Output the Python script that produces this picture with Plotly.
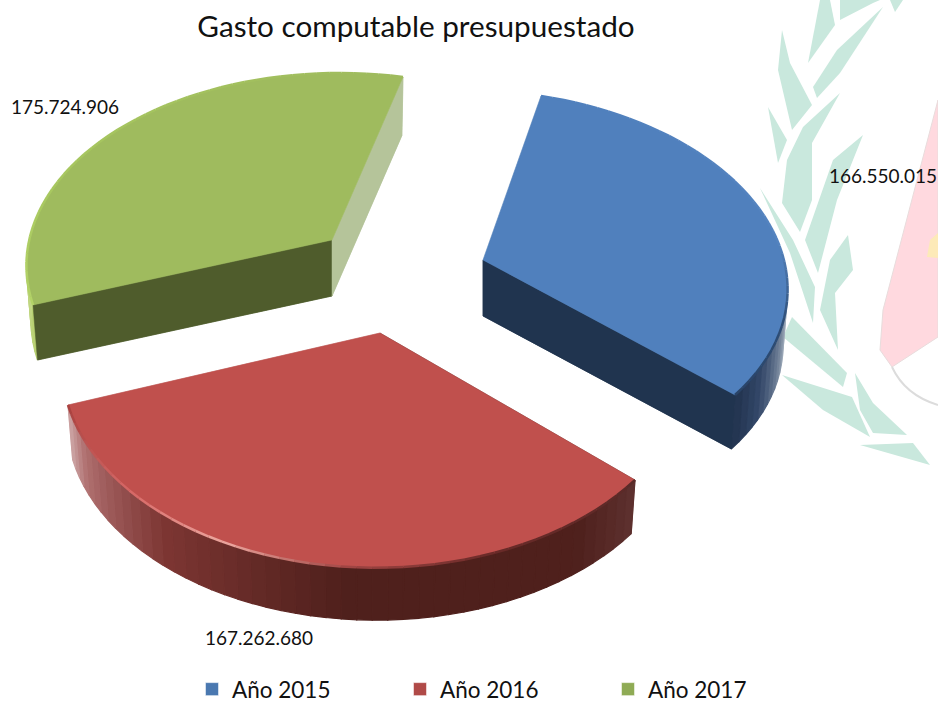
import numpy as np
import plotly.graph_objects as go

categories = ["Año 2015", "Año 2016", "Año 2017"]
values = [166550015, 167262680, 175724906]
title_text = "Gasto computable presupuestado"

W, H = 938, 711
top_colors = ["#5080bd", "#c0504d", "#9fbb5e"]
legend_colors = ["#4a78b0", "#b04a48", "#8fab55"]
apex = [(483, 260), (380, 333), (332, 240)]
label_pos = [(883, 178), (259, 640), (65, 109)]
depth = 56

# view: projective map of the unit disc onto the screen for each slice, fixed by the
# directions of the slice boundaries as seen from that slice's apex
view_dirs = [
    [(58, -164), (252, 135), (-305, 68)],
    [(67, -168), (255, 147), (-312, 72)],
    [(71, -163), (253, 141), (-299, 65)],
]

fractions = np.array(values) / sum(values)
edges = np.concatenate([[0], np.cumsum(fractions)]) * 2 * np.pi


def make_view(dirs):
    rows, rhs = [], []
    for phi, (u, v) in zip(edges[:3], dirs):
        x, y = np.sin(phi), np.cos(phi)
        rows.append([x, y, 0, 0, -u * x, -u * y]); rhs.append(u)
        rows.append([0, 0, x, y, -v * x, -v * y]); rhs.append(v)
    return np.linalg.solve(np.array(rows, float), np.array(rhs, float))


def project(view, phi):
    a, b, c, d, g, h = view
    x, y = np.sin(phi), np.cos(phi)
    w = 1 + g * x + h * y
    return (a * x + b * y) / w, (c * x + d * y) / w


def hex_rgb(s):
    return np.array([int(s[i:i + 2], 16) for i in (1, 3, 5)], float)


def ramp(stops, t):
    ts = [s[0] for s in stops]
    rgb = [np.interp(t, ts, [hex_rgb(s[1])[k] for s in stops]) for k in range(3)]
    return "rgb(%d,%d,%d)" % tuple(rgb)


side_ramps = [
    [(0, "#d8dde2"), (0.72, "#c8d0d8"), (0.82, "#76869c"), (0.92, "#34486a"), (1, "#22344f")],
    [(0, "#5f3230"), (0.12, "#4f211d"), (0.45, "#4f201c"), (0.72, "#7d3633"), (0.92, "#b07070"), (1, "#cfa8a8")],
    [(0, "#b8d070"), (0.2, "#c8dc90"), (1, "#e8f0d0")],
]
rim_ramps = [
    [(0, "#5080bd"), (0.6, "#5584c0"), (0.8, "#2f4f78"), (1, "#2a4468")],
    [(0, "#5a2a28"), (0.25, "#6a2a28"), (0.45, "#a04644"), (0.62, "#eda8a0"), (0.78, "#d86a68"), (1, "#a84240")],
    [(0, "#b4d468"), (0.3, "#a8c860"), (1, "#9fbb5e")],
]
face_colors = [("#e0e4e8", "#20344f"), ("#5f3230", "#cfa8a8"), ("#4f5c2c", "#b5c49a")]
NSEG = 48

fig = go.Figure()


def poly(xs, ys, color, lw=1.2):
    fig.add_trace(go.Scatter(x=xs, y=ys, mode="lines", fill="toself", fillcolor=color,
                             line=dict(color=color, width=lw), hoverinfo="skip", showlegend=False))


for i in range(3):
    ax, ay = apex[i]
    phis = np.linspace(edges[i], edges[i + 1], NSEG + 1)
    px, py = project(make_view(view_dirs[i]), phis)
    tx, ty = ax + px, ay + py
    bx, by = ax + px * 0.985, ay + py * 0.985 + depth
    # radial side walls
    poly([ax, tx[0], bx[0], ax, ax], [ay, ty[0], by[0], ay + depth, ay], face_colors[i][0], 0.5)
    poly([ax, tx[-1], bx[-1], ax, ax], [ay, ty[-1], by[-1], ay + depth, ay], face_colors[i][1], 0.5)
    # rounded outer wall (only where it faces the viewer)
    for k in range(NSEG):
        t = (k + 0.5) / NSEG
        if i == 2 and t > 0.5:
            continue
        poly([tx[k], tx[k + 1], bx[k + 1], bx[k], tx[k]],
             [ty[k], ty[k + 1], by[k + 1], by[k], ty[k]], ramp(side_ramps[i], t))
    if i != 1:
        # walls in front of the rounded wall
        j = 1 if i == 0 else 0
        e = -1 if j else 0
        poly([ax, tx[e], bx[e], ax, ax], [ay, ty[e], by[e], ay + depth, ay], face_colors[i][j], 0.5)
    if i == 2:
        poly([ax, tx[-1], bx[-1], ax, ax], [ay, ty[-1], by[-1], ay + depth, ay], face_colors[i][1], 0.5)
    # top face
    poly(np.r_[ax, tx, ax], np.r_[ay, ty, ay], top_colors[i], 0.5)
    # bevel on the rim
    for k in range(NSEG):
        t = (k + 0.5) / NSEG
        fig.add_trace(go.Scatter(x=tx[k:k + 2], y=ty[k:k + 2], mode="lines",
                                 line=dict(color=ramp(rim_ramps[i], t), width=2.5),
                                 hoverinfo="skip", showlegend=False))

label_text = [f"{v:,}".replace(",", ".") for v in values]
fig.add_trace(go.Scatter(x=[p[0] for p in label_pos], y=[p[1] for p in label_pos], text=label_text,
                         mode="text", textposition="middle center",
                         textfont=dict(family="Lato", size=19, color="#111111"),
                         hoverinfo="skip", showlegend=False, cliponaxis=False))

for name, color in zip(categories, legend_colors):
    fig.add_trace(go.Scatter(x=[None], y=[None], mode="markers", name=name,
                             marker=dict(symbol="square", size=13, color=color,
                                         line=dict(color="rgba(255,255,255,0.5)", width=1))))

# faint emblem behind the chart
leaves = [
    [(820, 0), (808, 63), (835, 25), (830, 0)],
    [(840, 0), (840, 20), (873, 3), (880, 0)],
    [(890, 0), (895, 12), (903, 0)],
    [(883, 7), (837, 50), (813, 87), (817, 98), (840, 73)],
    [(782, 30), (778, 70), (792, 130), (812, 105), (790, 63)],
    [(768, 107), (778, 163), (787, 140)],
    [(840, 93), (803, 127), (787, 160), (782, 203), (800, 232), (812, 200), (812, 143)],
    [(863, 135), (833, 160), (805, 240), (818, 273), (837, 200)],
    [(760, 188), (790, 253), (813, 323), (815, 287), (793, 240)],
    [(848, 235), (830, 260), (820, 310), (838, 350), (835, 293), (853, 270)],
    [(792, 317), (783, 337), (843, 387), (847, 373)],
    [(782, 375), (852, 397), (870, 437), (823, 410)],
    [(855, 373), (860, 410), (873, 433), (907, 435), (873, 403)],
    [(860, 445), (930, 465), (913, 443)],
]
shield = [(938, 100), (883, 310), (880, 350), (892, 367), (938, 337)]
crest = [(927, 257), (930, 240), (938, 233), (938, 258)]


def path(pts):
    return "M " + " L ".join(f"{x} {y}" for x, y in pts) + " Z"


shapes = [dict(type="path", path=path(p), fillcolor="#c9e8dd", line=dict(width=0), layer="below") for p in leaves]
shapes.append(dict(type="path", path=path(shield), fillcolor="#ffd9df",
                   line=dict(color="#e8dcdc", width=1), layer="below"))
shapes.append(dict(type="path", path=path(crest), fillcolor="#fdeab8", line=dict(width=0), layer="below"))
shapes.append(dict(type="path", path="M 892 367 Q 905 395 938 405", line=dict(color="#dcdcdc", width=2), layer="below"))

fig.update_layout(
    width=W, height=H, margin=dict(l=0, r=0, t=0, b=0),
    paper_bgcolor="white", plot_bgcolor="rgba(0,0,0,0)",
    xaxis=dict(range=[0, W], visible=False, fixedrange=True),
    yaxis=dict(range=[H, 0], visible=False, fixedrange=True),
    title=dict(text=title_text, x=416 / W, xanchor="center", y=1 - 27 / H, yanchor="middle",
               font=dict(family="Lato", size=29.7, color="#111111")),
    legend=dict(orientation="h", x=192 / W, xanchor="left", y=0, yanchor="bottom",
                entrywidth=163, entrywidthmode="pixels",
                font=dict(family="Lato", size=22.5, color="#111111"),
                bgcolor="rgba(0,0,0,0)", itemsizing="trace"),
    shapes=shapes, showlegend=True,
)
fig.write_html("out.html", config=dict(displayModeBar=False),
               post_script="document.body.style.margin='0';document.body.style.overflow='hidden';")
